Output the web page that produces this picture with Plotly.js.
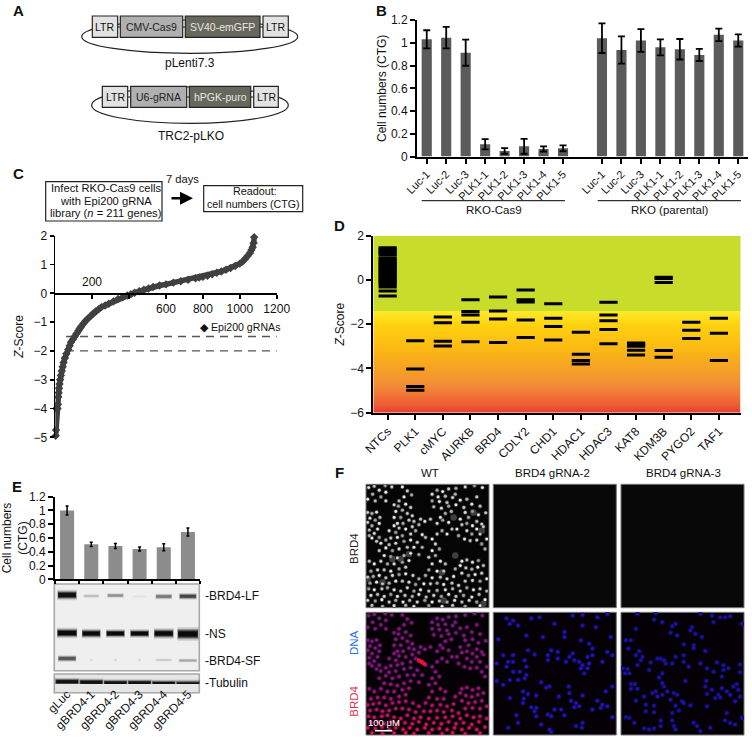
<!DOCTYPE html>
<html><head><meta charset="utf-8">
<script src="https://cdn.plot.ly/plotly-3.0.1.min.js"></script>
<style>html,body{margin:0;padding:0;background:#fff}</style></head>
<body><div id="chart" style="width:752px;height:742px"></div>
<script>
// ---------- DATA ----------
const guideLabels = ['Luc-1','Luc-2','Luc-3','PLK1-1','PLK1-2','PLK1-3','PLK1-4','PLK1-5'];
const cas9Values = [1.03,1.045,0.913,0.108,0.05,0.09,0.067,0.073];
const cas9Errors = [0.08,0.095,0.115,0.045,0.025,0.065,0.022,0.026];
const parentalValues = [1.04,0.937,1.02,0.96,0.943,0.893,1.07,1.02];
const parentalErrors = [0.13,0.12,0.10,0.07,0.09,0.053,0.055,0.054];

const rankValues = [2,4,6,8,12,14,16,18,20,23,26,30,35,40,45,52,60,70,78,85,95,105,115,125,132,140,152,165,178,190,205,220,235,250,270,290,315,340,365,390,410,430,455,480,505,530,565,600,640,680,720,760,780,800,825,850,875,900,925,950,975,1000,1015,1030,1043,1055,1063,1070,1075,1078];
const zValues = [-4.95,-4.75,-4.0,-4.0,-4.0,-3.85,-3.6,-3.45,-3.3,-3.15,-3.0,-2.85,-2.7,-2.55,-2.4,-2.25,-2.1,-1.95,-1.82,-1.7,-1.6,-1.5,-1.4,-1.3,-1.22,-1.15,-1.05,-0.95,-0.87,-0.8,-0.7,-0.62,-0.55,-0.48,-0.42,-0.36,-0.28,-0.2,-0.14,-0.08,-0.03,0.02,0.07,0.12,0.17,0.22,0.27,0.31,0.37,0.42,0.47,0.52,0.545,0.57,0.61,0.66,0.71,0.76,0.82,0.88,0.95,1.03,1.1,1.2,1.3,1.4,1.5,1.6,1.75,1.95];
const thresholdLines = [-1.5,-2];

const geneNames = ['NTCs','PLK1','cMYC','AURKB','BRD4','CDLY2','CHD1','HDAC1','HDAC3','KAT8','KDM3B','PYGO2','TAF1'];
const ntcs = [1.45,1.38,1.3,1.22,1.15,1.0,0.93,0.85,0.78,0.7,0.62,0.55,0.47,0.4,0.32,0.25,0.18,0.1,0.03,-0.05,-0.12,-0.2,-0.32,-0.5,-0.72];
const plk1 = [-2.75,-4.02,-4.82,-4.98];
const cmyc = [-1.67,-1.93,-2.77,-2.98];
const aurkb = [-0.9,-1.43,-1.58,-1.91,-2.79];
const brd4 = [-0.77,-1.4,-1.76,-2.83];
const cdly2 = [-0.45,-0.9,-1.0,-1.81,-2.6];
const chd1 = [-1.08,-1.73,-2.1,-2.71];
const hdac1 = [-2.36,-3.36,-3.64,-3.8];
const hdac3 = [-1.01,-1.58,-1.84,-2.24,-2.88];
const kat8 = [-2.85,-2.92,-3.0,-3.18,-3.39];
const kdm3b = [0.12,0.06,-0.11,-3.19,-3.49];
const pygo2 = [-1.91,-2.27,-2.65];
const taf1 = [-1.73,-2.41,-3.64];
const geneScores = [ntcs,plk1,cmyc,aurkb,brd4,cdly2,chd1,hdac1,hdac3,kat8,kdm3b,pygo2,taf1];

const sgLabels = ['gLuc','gBRD4-1','gBRD4-2','gBRD4-3','gBRD4-4','gBRD4-5'];
const sgValues = [1.0,0.508,0.484,0.44,0.465,0.687];
const sgErrors = [0.065,0.03,0.035,0.03,0.05,0.058];

// western blot bands: lane, row (page px), half width (lanes), thickness (px), colour
const bandLane = [0,1,2,3,4,5, 0,1,2,3,4,5, 0,1,2,3,4,5, 0,1,2,3,4,5];
const bandRow = [595,596,595.5,596.5,596.5,596.3, 633,633.5,633.5,633.5,633.5,634, 658.5,660,660,660,660,660.5, 681.7,682.3,683,683,683.5,684.3];
const bandHalf = [.4,.32,.34,.28,.34,.36, .42,.39,.39,.39,.41,.44, .38,.05,.05,.05,.33,.38, .5,.5,.5,.5,.5,.5];
const bandThick = [5.5,2,2.5,1.5,3,3.5, 5.5,5,4.5,4.5,5.5,7, 3.5,1.5,1.5,1.5,1.5,2, 4,4,4,4,4,5];
const bandColor = ['#111','#bbb','#8f8f8f','#e2e2e2','#777','#444', '#0a0a0a','#0a0a0a','#0a0a0a','#0a0a0a','#0a0a0a','#0a0a0a', '#555','#d8d8d8','#d0d0d0','#d0d0d0','#c8c8c8','#a5a5a5', '#111','#111','#111','#111','#111','#111'];

// imaged nuclei, x,y pairs
const wtCells = [8,10,25,6,40,18,58,4,60,24,78,8,20,30,5,45,28,50,60,50,45,38,110,8,125,20,138,32,115,38,100,50,85,62,98,66,120,60,135,70,110,78,90,82,125,88,140,95,105,100,85,100,130,108,112,118,95,118,145,112,
200,30,215,18,232,22,250,14,272,12,218,38,240,36,262,40,200,50,222,52,245,55,270,30,285,48,205,68,228,72,250,66,272,62,296,70,240,88,225,100,258,82,300,8,328,4,352,10,335,38,305,45,320,60,345,66,300,85,322,82,340,92,362,86,310,100,285,105,335,112,350,120,305,118,322,125,
5,85,18,88,32,84,42,100,12,102,28,108,40,118,5,115,18,125,35,135,10,138,25,148,40,160,18,162,32,172,10,155,
85,125,100,132,70,140,90,145,120,135,140,128,160,122,178,112,195,105,215,118,232,108,250,115,165,105,150,140,170,152,180,160,135,150,110,155,95,160,75,162,60,168,45,178,70,182,90,178,115,172,135,168,155,175,170,190,145,190,125,190,100,195,80,200,60,192,40,200,160,212,135,208,115,215,95,222,75,218,55,215,45,232,65,240,25,240,10,232,85,240,110,235,130,230,120,250,100,255,75,262,55,258,35,258,15,262,
200,165,215,150,230,140,245,150,260,135,210,180,222,195,200,200,190,220,210,215,225,232,240,240,200,240,190,258,215,262,235,262,180,275,
275,135,290,122,305,140,320,150,335,135,355,128,280,155,298,165,315,170,335,168,350,180,365,165,345,150,360,195,290,232,305,228,322,235,340,230,285,245,302,252,320,256,338,250,355,245,290,268,310,275,330,272,350,268,270,255,265,278,300,292,322,290,345,292,365,285,
5,280,22,278,40,275,60,282,80,275,100,272,120,270,142,275,160,285,200,282,225,280,245,285,12,298,32,295,50,300,70,298,90,292,110,292,130,295,150,302,175,300,195,300,215,298,235,302,260,298,280,305,8,315,25,318,48,315,65,312,85,318,105,322,125,312,145,322,165,318,190,322,215,320,240,318,262,315,285,322,305,312,325,318,345,315,365,322,15,335,35,332,55,338,75,332,95,338,118,335,140,338,160,332,182,340,205,335,228,338,250,332,272,338,295,335,320,340,342,332,5,350,28,352,48,348,70,355,90,350,112,355,132,350,155,355,178,350,200,355,222,352,245,355,268,350,290,355,312,350,335,355,360,348,18,365,50,368,85,366,120,365,145,368,190,366,230,368,262,365,300,368,345,366];
const wtDimCells = [265,100,270,215,105,225,350,140,355,360,130,210,80,225,50,295,235,350,325,85,5,285,230,265];
const g2Cells = [40,18,60,25,75,40,115,18,140,15,240,10,270,8,315,15,345,5,50,35,185,35,270,40,310,45,215,60,150,75,215,75,100,70,15,82,265,85,355,75,290,95,300,110,105,115,175,115,195,120,125,128,30,130,60,130,165,130,240,125,230,135,285,135,300,130,345,120,360,130,45,150,60,150,95,145,165,145,195,140,220,150,245,145,260,150,270,160,290,155,330,150,10,155,40,165,100,165,265,170,285,170,60,180,80,180,100,190,275,185,50,205,75,205,95,200,10,208,30,220,145,212,160,228,170,225,228,225,360,225,340,240,90,240,105,248,130,252,230,245,270,252,198,255,50,260,92,262,235,268,315,268,250,275,90,275,330,280,345,285,245,288,115,288,130,290,185,295,205,295,300,295,325,290,260,285,125,300,70,312,130,315,165,310,175,315,215,312,360,318,270,335,145,340,250,345,268,350,170,355,175,362,45,350,75,335];
const g3Cells = [50,5,105,3,240,5,275,10,300,15,315,15,330,12,280,30,365,35,125,30,100,22,165,35,155,42,45,50,215,45,150,62,210,55,225,65,170,70,245,75,15,85,30,85,190,97,220,100,220,108,22,110,255,117,55,118,45,130,65,135,60,145,190,130,165,135,110,140,120,140,130,145,135,155,90,152,155,155,190,150,205,165,240,155,290,152,310,160,360,158,50,160,5,170,20,172,12,185,25,185,85,175,125,185,260,170,280,180,310,175,325,170,360,182,305,195,115,198,195,208,258,208,30,217,42,217,125,215,130,225,30,232,50,232,105,240,95,245,125,250,140,240,255,225,275,235,305,230,320,240,340,225,355,235,350,218,260,248,295,250,160,245,170,250,70,255,110,255,150,265,185,270,285,260,300,258,330,250,345,270,360,255,45,268,75,280,100,283,165,283,210,282,190,275,260,285,100,303,75,300,175,298,155,305,15,318,25,320,120,328,155,328,320,305,315,328,330,335,345,340,40,335,160,345,165,355,220,335,230,345,270,350,85,355,100,352,240,360,70,352,120,345,365,320];
const wtRedCluster = [160,146,168,150,176,156];

// ---------- HELPERS ----------
const FONT = 'Liberation Sans, Arial, sans-serif';
const xd = (a,b)=>[a/752,b/752];
const yd = (top,bot)=>[1-bot/742,1-top/742];
const evens = a=>a.filter((_,i)=>i%2===0);
const odds = a=>a.filter((_,i)=>i%2===1);
const rect = (x0,y0,x1,y1,fill,line,w,layer)=>({type:'rect',xref:'paper',yref:'paper',x0:x0/752,x1:x1/752,y0:1-y0/742,y1:1-y1/742,fillcolor:fill,line:{color:line,width:w===undefined?1:w},layer:layer||'below'});
const ell = (x0,y0,x1,y1)=>({type:'circle',xref:'paper',yref:'paper',x0:x0/752,x1:x1/752,y0:1-y0/742,y1:1-y1/742,fillcolor:'rgba(0,0,0,0)',line:{color:'#222',width:1.2},layer:'below'});
const seg = (x0,y0,x1,y1,c,w)=>({type:'line',xref:'paper',yref:'paper',x0:x0/752,x1:x1/752,y0:1-y0/742,y1:1-y1/742,line:{color:c||'#111',width:w||1},layer:'below'});
const txt = (x,y,t,o)=>Object.assign({xref:'paper',yref:'paper',x:x/752,y:1-y/742,text:t,showarrow:false,xanchor:'center',yanchor:'middle',font:{family:FONT,size:12,color:'#111'}},o?{font:{family:FONT,size:o.size||12,color:o.color||'#111'},textangle:o.angle||0,xanchor:o.anchor||'center'}:{});

const blackAxis = {showgrid:false,zeroline:false,showline:true,linecolor:'#000',linewidth:2,ticks:'outside',ticklen:5,tickwidth:2,tickcolor:'#000',tickfont:{family:FONT,size:12,color:'#111'}};
const hidden = {showgrid:false,zeroline:false,showline:false,ticks:'',showticklabels:false,fixedrange:true};

// ---------- TRACES ----------
const traces = [];
const parentalX = guideLabels.map((_,i)=>i+9);
const cas9X = guideLabels.map((_,i)=>i);
const ebar = (arr,th,w)=>({type:'data',array:arr,visible:true,color:'#000',thickness:th,width:w});
traces.push({type:'bar',name:'RKO-Cas9',x:cas9X,y:cas9Values,error_y:ebar(cas9Errors,1.8,3.5),marker:{color:'#5b5b5b'},width:.52,xaxis:'x',yaxis:'y'});
traces.push({type:'bar',name:'RKO (parental)',x:parentalX,y:parentalValues,error_y:ebar(parentalErrors,1.8,3.5),marker:{color:'#5b5b5b'},width:.52,xaxis:'x',yaxis:'y'});

// C
thresholdLines.forEach(v=>traces.push({type:'scatter',mode:'lines',x:[58,1210],y:[v,v],line:{color:'#555',width:1.4,dash:'8px,6px'},xaxis:'x2',yaxis:'y2',cliponaxis:false,hoverinfo:'skip'}));
traces.push({type:'scatter',mode:'lines+markers',name:'Epi200 gRNAs',x:rankValues,y:zValues,line:{color:'#404040',width:5.5},marker:{symbol:'diamond',size:6.5,color:'#404040'},xaxis:'x2',yaxis:'y2',cliponaxis:false});

// D
const gradZ = [-6,-5.5,-5,-4.5,-4,-3.5,-3,-2.5,-2,-1.6,-1.4];
traces.push({type:'heatmap',x:[-0.52,12.79],y:gradZ,z:gradZ.map(v=>[v,v]),zmin:-6,zmax:-1.4,zsmooth:'best',showscale:false,hoverinfo:'skip',
  colorscale:[[0,'#e83a2e'],[.087,'#ee5f34'],[.26,'#f28a38'],[.435,'#f6a225'],[.652,'#fcbb12'],[.87,'#ffd30f'],[1,'#fdea2a']],xaxis:'x3',yaxis:'y3'});
traces.push({type:'scatter',mode:'lines',x:[-0.52,12.79,12.79,-0.52,-0.52],y:[-1.4,-1.4,2,2,-1.4],fill:'toself',fillcolor:'#c8dc2c',line:{width:0,color:'#c8dc2c'},xaxis:'x3',yaxis:'y3',hoverinfo:'skip'});
geneScores.forEach((vals,i)=>traces.push({type:'scatter',mode:'markers',name:geneNames[i],x:vals.map(()=>i),y:vals,marker:{symbol:'line-ew',size:13,color:'#000',line:{color:'#000',width:3}},xaxis:'x3',yaxis:'y3'}));

// E
traces.push({type:'bar',name:'Cell numbers',x:sgLabels.map((_,i)=>i),y:sgValues,error_y:ebar(sgErrors,1.5,1.5),marker:{color:'#8c8c8c'},width:.58,xaxis:'x4',yaxis:'y4'});
// blot bands: soft halo layers under a dark core
bandLane.forEach((l,i)=>{
  const ys=[bandRow[i],bandRow[i]];
  [[1.9,.16,1.0],[1.45,.28,.98],[1.1,.55,.95],[.75,1,.9]].forEach(([wf,op,hf])=>{
    traces.push({type:'scatter',mode:'lines',x:[l-bandHalf[i]*hf,l+bandHalf[i]*hf],y:ys,line:{color:bandColor[i],width:bandThick[i]*wf},opacity:op,xaxis:'x5',yaxis:'y5',hoverinfo:'skip',cliponaxis:false});
  });
});

// F
const cell = (pairs,ax,ay,size,color,extra)=>traces.push(Object.assign({type:'scatter',mode:'markers',x:evens(pairs),y:odds(pairs),marker:{size:size,color:color,line:{width:0}},xaxis:ax,yaxis:ay,hoverinfo:'skip'},extra||{}));
const greyShades = ['#e6e6e6','#bdbdbd','#d6d6d6','#9c9c9c','#f0f0f0','#c8c8c8','#ababab'];
cell(wtDimCells,'x6','y6',6.5,'#3f3f3f');
cell(wtCells,'x6','y6',4.4,'#454545');
cell(wtCells,'x6','y6',2.8,evens(wtCells).map((_,i)=>greyShades[i%7]));
const ys = odds(wtCells);
const mergeScale = [[0,'#7c1a80'],[.55,'#8a1486'],[.78,'#b81270'],[1,'#e0145a']];
traces.push({type:'scatter',mode:'markers',x:evens(wtCells),y:ys,xaxis:'x7',yaxis:'y7',hoverinfo:'skip',opacity:.45,
  marker:{size:5,color:ys,cmin:0,cmax:372,colorscale:mergeScale,line:{width:0},showscale:false}});
traces.push({type:'scatter',mode:'markers',x:evens(wtCells),y:ys,xaxis:'x7',yaxis:'y7',hoverinfo:'skip',
  marker:{size:3,color:ys,cmin:0,cmax:372,colorscale:mergeScale,line:{width:0},showscale:false}});
cell(wtRedCluster,'x7','y7',4.5,'#e8103c');
cell(g2Cells,'x8','y8',5,'#100a60');
cell(g2Cells,'x8','y8',3.2,'#2214b4');
cell(g3Cells,'x9','y9',5,'#0e0a58');
cell(g3Cells,'x9','y9',3.2,'#1e12a4');

// ---------- LAYOUT ----------
const layout = {
  width:752,height:742,margin:{l:0,r:0,t:0,b:0,pad:0},paper_bgcolor:'#fff',plot_bgcolor:'rgba(0,0,0,0)',showlegend:false,barmode:'overlay',
  font:{family:FONT,size:12,color:'#111'},
  // B
  xaxis:Object.assign({},blackAxis,{domain:xd(417,748),range:[-.5,16.5],tickmode:'array',tickvals:cas9X.concat(parentalX),ticktext:guideLabels.concat(guideLabels),tickangle:-45,tickfont:{family:FONT,size:11,color:'#111'},anchor:'y'}),
  yaxis:Object.assign({},blackAxis,{domain:yd(20,156.6),range:[0,1.2],tickmode:'array',tickvals:[0,.2,.4,.6,.8,1,1.2],ticktext:['0','0.2','0.4','0.6','0.8','1','1.2'],anchor:'x',title:{text:'Cell numbers (CTG)',standoff:2,font:{family:FONT,size:12,color:'#111'}}}),
  // C
  xaxis2:Object.assign({},blackAxis,{domain:xd(55.3,276.7),range:[0,1200],tickmode:'array',tickvals:[200,400,600,800,1000,1200],ticktext:['','','600','800','1000','1200'],anchor:'free',position:1-293.3/742,linewidth:1.6,ticklen:4,tickwidth:1.6}),
  yaxis2:Object.assign({},blackAxis,{domain:yd(235.7,437.3),range:[-5,2],tickmode:'array',tickvals:[-5,-4,-3,-2,-1,0,1,2],anchor:'x2',linewidth:1.6,ticklen:4,tickwidth:1.6,title:{text:'<i>Z</i>-Score',standoff:7,font:{family:FONT,size:12,color:'#111'}}}),
  // D
  xaxis3:Object.assign({},blackAxis,{domain:xd(373.3,740.7),range:[-.52,12.79],tickmode:'array',tickvals:geneNames.map((_,i)=>i),ticktext:geneNames,tickangle:-45,anchor:'y3'}),
  yaxis3:Object.assign({},blackAxis,{domain:yd(235.7,412.7),range:[-6,2],tickmode:'array',tickvals:[-6,-4,-2,0,2],anchor:'x3',title:{text:'<i>Z</i>-Score',standoff:3,font:{family:FONT,size:12,color:'#111'}}}),
  // E
  xaxis4:Object.assign({},blackAxis,{domain:xd(55,200),range:[-.5,5.5],tickmode:'array',tickvals:[-.5,.5,1.5,2.5,3.5,4.5,5.5],showticklabels:false,anchor:'y4',ticklen:3}),
  yaxis4:Object.assign({},blackAxis,{domain:yd(496.7,579.3),range:[0,1.2],tickmode:'array',tickvals:[0,.2,.4,.6,.8,1,1.2],ticktext:['0','0.2','0.4','0.6','0.8','1','1.2'],anchor:'x4',title:{text:'Cell numbers<br>(CTG)',standoff:2,font:{family:FONT,size:12,color:'#111'}}}),
  xaxis5:{domain:xd(55,200),range:[-.5,5.5],showgrid:false,zeroline:false,showline:false,ticks:'',tickmode:'array',tickvals:sgLabels.map((_,i)=>i),ticktext:sgLabels,tickangle:-45,tickfont:{family:FONT,size:12,color:'#111'},anchor:'y5'},
  yaxis5:Object.assign({},hidden,{domain:yd(584,684),range:[684,584],anchor:'x5'}),
  // F
  xaxis6:Object.assign({},hidden,{domain:xd(366,489),range:[0,372],anchor:'y6'}),
  yaxis6:Object.assign({},hidden,{domain:yd(484.3,607.7),range:[372,0],anchor:'x6'}),
  xaxis7:Object.assign({},hidden,{domain:xd(366,489),range:[0,372],anchor:'y7'}),
  yaxis7:Object.assign({},hidden,{domain:yd(612.3,735),range:[372,0],anchor:'x7'}),
  xaxis8:Object.assign({},hidden,{domain:xd(493.3,616.3),range:[0,372],anchor:'y8'}),
  yaxis8:Object.assign({},hidden,{domain:yd(612.3,735),range:[372,0],anchor:'x8'}),
  xaxis9:Object.assign({},hidden,{domain:xd(621,744),range:[0,372],anchor:'y9'}),
  yaxis9:Object.assign({},hidden,{domain:yd(612.3,735),range:[372,0],anchor:'x9'}),
  shapes:[
    // A
    ell(81.7,20,297.7,53.3), ell(91.7,87,288.3,123.3),
    seg(117.7,27,120.3,27),seg(182.7,27,185.3,27),seg(260,27,263,27),
    seg(127.7,97,130.7,97),seg(186.7,97,189.3,97),seg(250.7,97,253.7,97),
    rect(92.3,16,117.7,37.3,'#e2e2e2','#222',1.2),rect(120.3,16,182.7,37.3,'#b0b0b0','#222',1.2),rect(185.3,16,260,37.3,'#67675b','#222',1.2),rect(263,16,288.3,37.3,'#e2e2e2','#222',1.2),
    rect(102.3,86.3,127.7,107.3,'#e2e2e2','#222',1.2),rect(130.7,86.3,186.7,107.3,'#b0b0b0','#222',1.2),rect(189.3,86.3,250.7,107.3,'#67675b','#222',1.2),rect(253.7,86.3,278.3,107.3,'#e2e2e2','#222',1.2),
    // B group rules
    seg(421.7,200.7,565,200.7,'#000',1),seg(597.7,200.7,741,200.7,'#000',1),
    // C boxes
    rect(45.7,181.7,162,221,'#fff','#222',1.2),rect(203.7,185.7,302.7,211.7,'#fff','#222',1.2),
    // E blot frames
    rect(54.3,584,199.3,670.7,'#efefef','#a8a8a8',1.6),rect(54.3,674,199.3,692.7,'#e6e6e6','#a8a8a8',1.6),
    // F frames
    rect(366,484.3,489,607.7,'#050505','#777',1),rect(493.3,484.3,616.3,607.7,'#080808','#777',1),rect(621,484.3,744,607.7,'#080808','#777',1),
    rect(366,612.3,489,735,'#050005','#777',1),rect(493.3,612.3,616.3,735,'#050005','#777',1),rect(621,612.3,744,735,'#050005','#777',1),
    seg(375,730.7,392.3,730.7,'#fff',1.6)
  ].map((s,i,a)=>i===a.length-1?Object.assign(s,{layer:'above'}):s),
  annotations:[
    txt(18,10,'<b>A</b>',{size:15}),txt(381,10,'<b>B</b>',{size:15}),txt(18,174,'<b>C</b>',{size:15}),txt(339,225,'<b>D</b>',{size:15}),txt(17,487,'<b>E</b>',{size:15}),txt(339,472,'<b>F</b>',{size:15}),
    txt(105,27,'LTR',{size:10.5}),txt(151.5,27,'CMV-Cas9',{size:10.5,color:'#222'}),txt(222.6,27,'SV40-emGFP',{size:10.5,color:'#e8e8e8'}),txt(275.6,27,'LTR',{size:10.5}),
    txt(115,97,'LTR',{size:10.5}),txt(158.7,97,'U6-gRNA',{size:10.5,color:'#222'}),txt(220,97,'hPGK-puro',{size:10.5,color:'#e8e8e8'}),txt(266,97,'LTR',{size:10.5}),
    txt(190,63.3,'pLenti7.3'),txt(191,136,'TRC2-pLKO'),
    txt(494,210,'RKO-Cas9',{size:11.5}),txt(670,210,'RKO (parental)',{size:11.5}),
    txt(106,187.7,'Infect RKO-Cas9 cells',{size:11.2}),txt(106,200.5,'with Epi200 gRNA',{size:11.2}),txt(106,212.7,'library (<i>n</i> = 211 genes)',{size:11.2}),
    txt(182,179.3,'7 days',{size:11.2}),txt(255,191.3,'Readout:',{size:10.8}),txt(253,204.3,'cell numbers (CTG)',{size:10.6}),
    {xref:'paper',yref:'paper',x:193/752,y:1-198.3/742,text:'',showarrow:true,arrowhead:2,arrowsize:1,arrowwidth:2.6,arrowcolor:'#000',ax:-23,ay:0},
    txt(92,282,'200',{size:12}),
    txt(240,326.7,'&#9670; Epi200 gRNAs',{size:10.6}),
    txt(202.7,595.7,'-BRD4-LF',{anchor:'left'}),txt(202.7,634,'-NS',{anchor:'left'}),txt(202.7,660.7,'-BRD4-SF',{anchor:'left'}),txt(202.7,683.3,'-Tubulin',{anchor:'left'}),
    txt(430,473.3,'WT',{size:11.5}),txt(552,473.3,'BRD4 gRNA-2',{size:11.5}),txt(683,473.3,'BRD4 gRNA-3',{size:11.5}),
    txt(354,549,'BRD4',{size:11.5,angle:-90,color:'#222'}),txt(354,643,'DNA',{size:11.5,angle:-90,color:'#1f6fe5'}),txt(354,701.7,'BRD4',{size:11.5,angle:-90,color:'#e2304f'}),
    txt(384,722,'100 &#956;M',{size:9.5,color:'#fff'})
  ]
};
Plotly.newPlot('chart',traces,layout,{staticPlot:true,displayModeBar:false});
</script></body></html>
